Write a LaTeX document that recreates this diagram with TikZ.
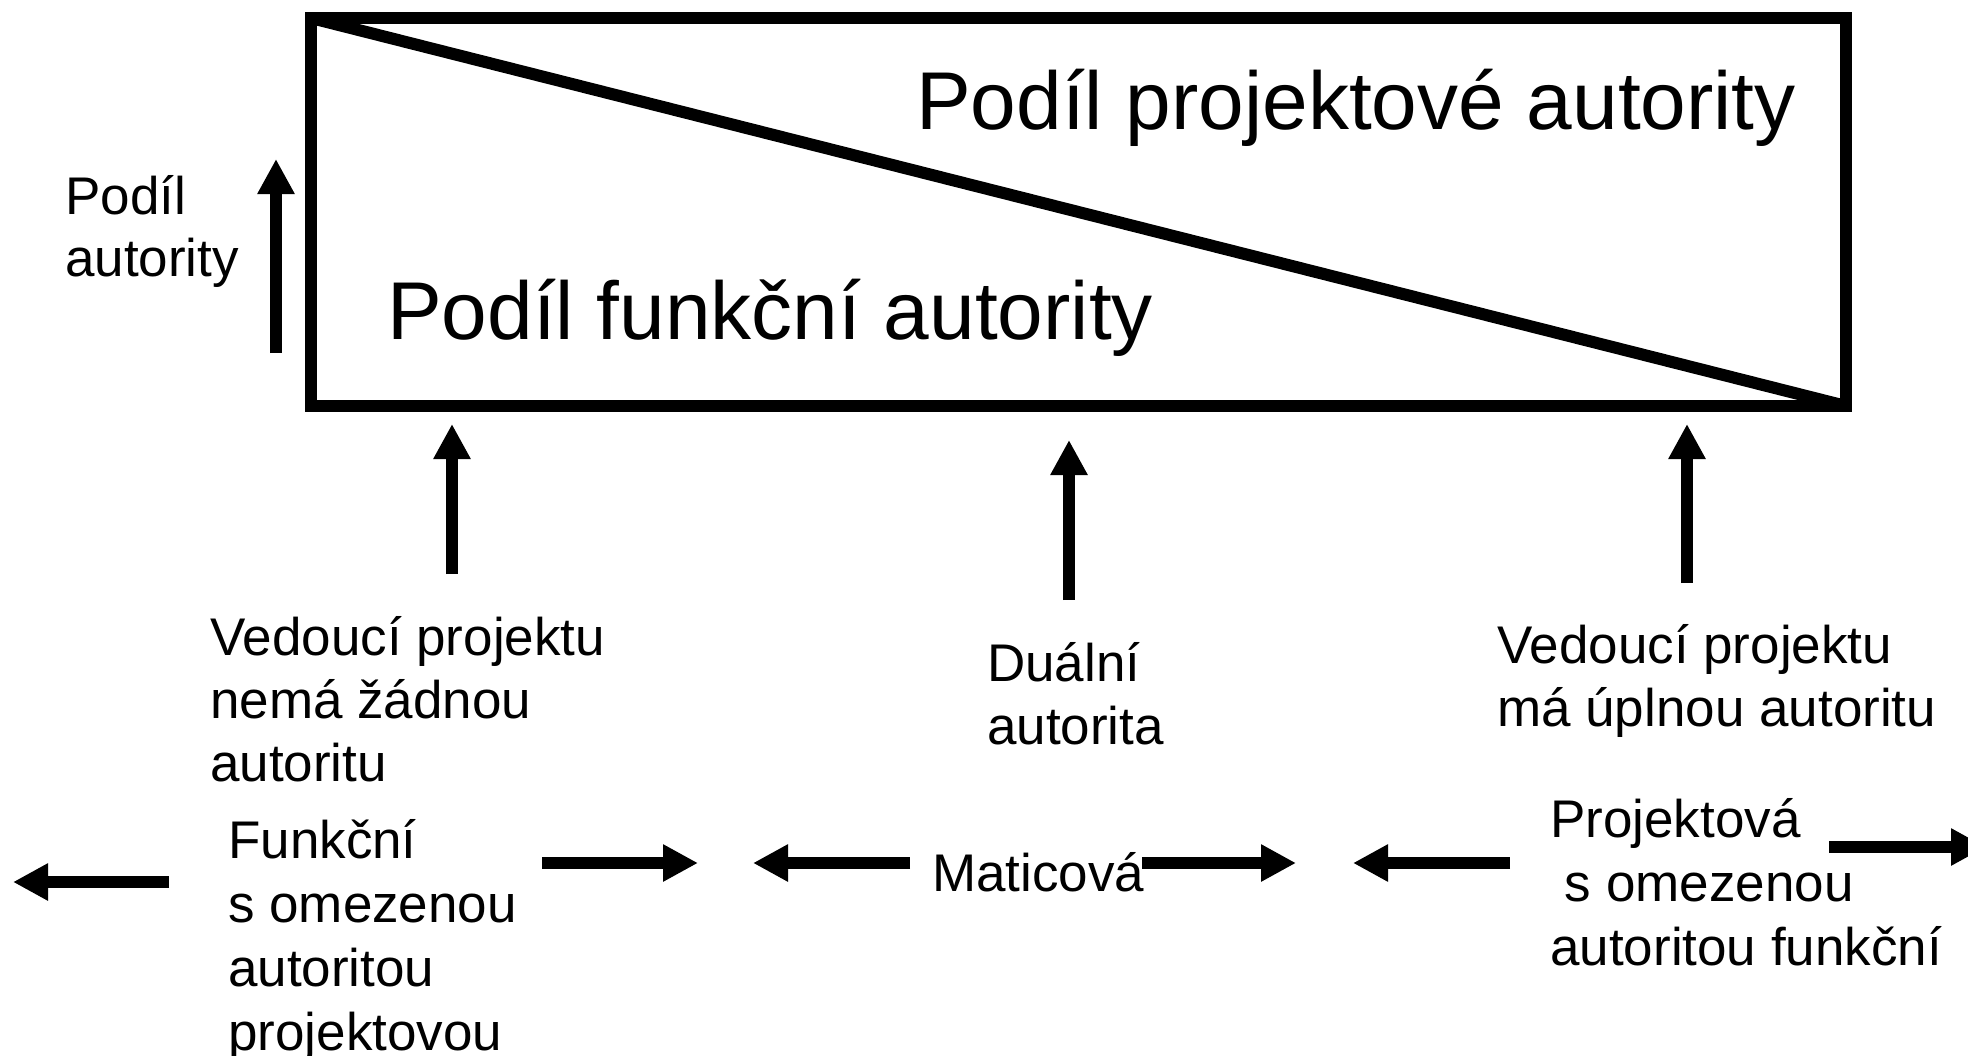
\documentclass[tikz,border=0pt]{standalone}
\usepackage{fontspec}
\setmainfont{Liberation Sans}
\usetikzlibrary{arrows.meta}
\begin{document}
\begin{tikzpicture}[x=1pt,y=-1pt,
  frame/.style={draw, line width=12pt, rectangle, inner sep=0pt, minimum width=1535pt, minimum height=388pt},
  bigtxt/.style={font=\fontsize{82}{94}\selectfont, inner sep=0pt, anchor=base west},
  txt/.style={font=\fontsize{53}{63}\selectfont, inner sep=0pt, anchor=base west, align=left},
  txtb/.style={font=\fontsize{53}{64}\selectfont, inner sep=0pt, anchor=base west, align=left},
  arr/.style={line width=12pt, -{Triangle[length=35pt,width=35pt]}},
]
\useasboundingbox (0,0) rectangle (1968,1055);
% main box
\node[frame] (box) at (1078.5,212) {};
\begin{scope}
  \clip (box.north west) rectangle (box.south east);
  \draw[line width=12pt] ([shift={(6,6)}]box.north west) -- ([shift={(-6,-6)}]box.south east);
\end{scope}
\node[bigtxt] (proj) at (916,129) {Podíl projektové autority};
\node[bigtxt] (func) at (387,339) {Podíl funkční autority};
% left axis label (base anchor = last line)
\node[font=\fontsize{53}{62}\selectfont, inner sep=0pt, anchor=base west, align=left] (share) at (65,276) {Podíl\\autority};
\coordinate (ax0) at (276,353);
\coordinate (ax1) at (276,159);
\draw[arr] (ax0) -- (ax1);
% labels under box
\node[txt] (none) at (210,781) {Vedoucí projektu\\nemá žádnou\\autoritu};
\node[txt] (dual) at (987,744) {Duální\\autorita};
\node[txt] (full) at (1497,726) {Vedoucí projektu\\má úplnou autoritu};
\coordinate (a0) at (452,574); \coordinate (a1) at (452,424);
\coordinate (b0) at (1069,600); \coordinate (b1) at (1069,440);
\coordinate (c0) at (1687,583); \coordinate (c1) at (1687,424);
\draw[arr] (a0) -- (a1);
\draw[arr] (b0) -- (b1);
\draw[arr] (c0) -- (c1);
% bottom row
\node[txtb] (funk) at (228,1050) {Funkční\\s omezenou\\autoritou\\projektovou};
\node[txtb] (mat) at (932,891) {Maticová};
\node[txtb] (prj) at (1550,965) {Projektová\\\hspace*{0.278em}s omezenou\\autoritou funkční};
\coordinate (p1a) at (169,882); \coordinate (p1b) at (13,882);
\coordinate (p2a) at (542,863); \coordinate (p2b) at (698,863);
\coordinate (p3a) at (910,863); \coordinate (p3b) at (753,863);
\coordinate (p4a) at (1142,863); \coordinate (p4b) at (1296,863);
\coordinate (p5a) at (1510,863); \coordinate (p5b) at (1353,863);
\coordinate (p6a) at (1829,847); \coordinate (p6b) at (1986,847);
\draw[arr] (p1a) -- (p1b);
\draw[arr] (p2a) -- (p2b);
\draw[arr] (p3a) -- (p3b);
\draw[arr] (p4a) -- (p4b);
\draw[arr] (p5a) -- (p5b);
\draw[arr] (p6a) -- (p6b);
\end{tikzpicture}
\end{document}
